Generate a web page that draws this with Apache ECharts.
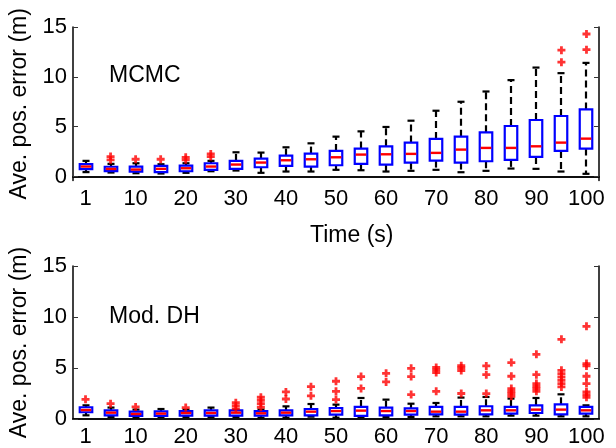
<!DOCTYPE html>
<html>
<head>
<meta charset="utf-8">
<script src="https://cdn.jsdelivr.net/npm/echarts@6/dist/echarts.min.js"></script>
<style>html,body{margin:0;padding:0;background:#fff}#c{width:616px;height:448px}</style>
</head>
<body>
<div id="c"></div>
<script>
// Time categories (s)
const categories = ['1','5','10','15','20','25','30','35','40','45','50','55','60','65','70','75','80','85','90','95','100'];
const yTicks = [0, 5, 10, 15];

// MCMC panel: whisker low, Q1, median, Q3, whisker high, outliers
const mcmcLow  = [0.44,0.40,0.33,0.30,0.37,0.53,0.60,0.37,0.50,0.50,0.67,0.63,0.50,0.57,0.67,0.43,0.57,0.80,0.77,0.50,0.27];
const mcmcQ1   = [0.74,0.54,0.50,0.45,0.53,0.67,0.77,0.93,1.07,1.00,1.13,1.27,1.20,1.40,1.60,1.40,1.53,1.67,1.97,2.57,2.80];
const mcmcMed  = [1.00,0.76,0.70,0.77,0.83,1.00,1.20,1.40,1.63,1.73,1.93,2.20,2.23,2.27,2.37,2.70,2.87,2.87,3.03,3.40,3.80];
const mcmcQ3   = [1.24,0.98,1.00,1.07,1.10,1.33,1.57,1.80,2.10,2.30,2.57,2.80,3.03,3.40,3.77,4.00,4.43,5.07,5.67,6.07,6.73];
const mcmcHigh = [1.57,1.27,1.33,1.23,1.33,1.57,2.43,2.40,2.93,3.33,4.00,4.53,4.97,5.60,6.60,7.50,8.53,9.67,10.93,10.37,11.40];
const mcmcOut  = [[],[1.67,2.0],[1.73],[1.73],[1.67,1.93],[2.0,2.27],[],[],[],[],[],[],[],[],[],[],[],[],[],[11.47,12.67],[12.73,14.3]];

// Mod. DH panel
const dhLow  = [0.36,0.20,0.13,0.20,0.20,0.20,0.20,0.13,0.13,0.23,0.13,0.20,0.20,0.20,0.26,0.26,0.26,0.33,0.33,0.26,0.26];
const dhQ1   = [0.66,0.36,0.30,0.30,0.33,0.33,0.33,0.33,0.36,0.36,0.43,0.30,0.36,0.43,0.46,0.43,0.46,0.52,0.59,0.46,0.52];
const dhMed  = [0.88,0.62,0.49,0.53,0.59,0.59,0.62,0.56,0.62,0.72,0.78,0.82,0.78,0.78,0.72,0.72,0.85,0.85,0.92,0.92,0.85];
const dhQ3   = [1.15,0.85,0.72,0.75,0.78,0.85,0.85,0.78,0.85,0.98,1.08,1.18,1.12,1.05,1.18,1.18,1.25,1.18,1.34,1.44,1.18];
const dhHigh = [1.34,1.12,0.92,0.98,0.90,1.12,0.90,0.92,1.24,1.47,1.41,2.06,1.90,1.50,1.57,2.10,2.16,2.00,2.06,2.42,1.34];
const dhOut  = [[1.93],[1.5],[1.18],[],[1.12],[],[1.0,1.3,1.6],[1.15,1.5,1.83,2.13],[1.96,2.65],[2.27,3.17],[1.9,2.71,3.7],[3.0,4.16],[3.63,4.48],[2.39,4.16,4.97],[2.71,4.55,4.8,5.05],[2.5,4.75,5.0,5.22],[2.49,4.35,5.2],[2.22,2.49,2.71,2.98,4.19,5.53],[2.71,2.98,3.2,3.47,4.35,6.34],[3.14,3.47,3.79,4.12,4.45,4.77,7.81],[2.13,2.39,2.65,3.47,4.19,5.2,5.43,9.09]];

const FONT = 'Liberation Sans, Arial, Helvetica, sans-serif';
const plus = 'path://M2.6,0H5.4V2.6H8V5.4H5.4V8H2.6V5.4H0V2.6H2.6Z';

function boxData(lo, q1, med, q3, hi) {
  return categories.map((c, i) => [i, lo[i], q1[i], med[i], q3[i], hi[i]]);
}
function outData(out) {
  const r = [];
  out.forEach((arr, i) => arr.forEach(v => r.push([i, v])));
  return r;
}

function renderBox(params, api) {
  const i = api.value(0);
  const lo = api.coord([i, api.value(1)]);
  const q1 = api.coord([i, api.value(2)]);
  const md = api.coord([i, api.value(3)]);
  const q3 = api.coord([i, api.value(4)]);
  const hi = api.coord([i, api.value(5)]);
  const band = api.size([1, 0])[0];
  const half = band * 0.25;
  const cap = band * 0.14;
  const x = Math.round(lo[0]);
  const wStyle = {stroke: '#000', lineWidth: 2.2, lineDash: [7, 4]};
  const cStyle = {stroke: '#000', lineWidth: 2.2};
  return {
    type: 'group',
    children: [
      {type: 'line', shape: {x1: x, y1: q3[1], x2: x, y2: hi[1]}, style: wStyle},
      {type: 'line', shape: {x1: x, y1: q1[1], x2: x, y2: lo[1]}, style: wStyle},
      {type: 'line', shape: {x1: x - cap, y1: hi[1], x2: x + cap, y2: hi[1]}, style: cStyle},
      {type: 'line', shape: {x1: x - cap, y1: lo[1], x2: x + cap, y2: lo[1]}, style: cStyle},
      {type: 'rect', shape: {x: x - half, y: q3[1], width: half * 2, height: q1[1] - q3[1]},
        style: {fill: '#fff', stroke: '#0000ff', lineWidth: 2.2}},
      {type: 'line', shape: {x1: x - half + 1, y1: md[1], x2: x + half - 1, y2: md[1]},
        style: {stroke: '#ff0000', lineWidth: 2.4}}
    ]
  };
}

const chart = echarts.init(document.getElementById('c'), null, {renderer: 'canvas'});

function xAxes(gi) {
  return [
    {type: 'category', gridIndex: gi, data: categories, position: 'bottom',
      axisLine: {lineStyle: {color: '#000', width: 1.5}},
      axisTick: {inside: true, alignWithLabel: true, interval: 1, length: 5, lineStyle: {color: '#333'}},
      axisLabel: {interval: 1, color: '#000', fontFamily: FONT, fontSize: 22, margin: 7},
      splitLine: {show: false}},
    {type: 'category', gridIndex: gi, data: categories, position: 'top',
      axisLine: {lineStyle: {color: '#000', width: 1.5}},
      axisTick: {inside: true, alignWithLabel: true, interval: 1, length: 5, lineStyle: {color: '#333'}},
      axisLabel: {show: false}, splitLine: {show: false}}
  ];
}
function yAxes(gi, min) {
  return [
    {type: 'value', gridIndex: gi, min: min, max: 15, position: 'left',
      name: 'Ave. pos. error (m)', nameLocation: 'middle', nameGap: 37,
      nameTextStyle: {color: '#000', fontFamily: FONT, fontSize: 23},
      axisLine: {show: true, lineStyle: {color: '#000', width: 1.5}},
      axisTick: {show: true, inside: true, length: 5, customValues: yTicks, lineStyle: {color: '#333'}},
      axisLabel: {color: '#000', fontFamily: FONT, fontSize: 22, margin: 6, customValues: yTicks},
      splitLine: {show: false}},
    {type: 'value', gridIndex: gi, min: min, max: 15, position: 'right',
      axisLine: {show: true, lineStyle: {color: '#000', width: 1.5}},
      axisTick: {show: true, inside: true, length: 5, customValues: yTicks, lineStyle: {color: '#333'}},
      axisLabel: {show: false, customValues: yTicks}, splitLine: {show: false}}
  ];
}

chart.setOption({
  animation: false,
  backgroundColor: '#fff',
  grid: [
    {left: 73, right: 17, top: 27, height: 153.5},
    {left: 73, right: 17, top: 266, height: 153}
  ],
  xAxis: xAxes(0).concat(xAxes(1)),
  yAxis: yAxes(0, -0.4).concat(yAxes(1, 0)),
  graphic: [
    {type: 'text', left: 109, top: 64, style: {text: 'MCMC', fontFamily: FONT, fontSize: 23, fill: '#000'}},
    {type: 'text', left: 109, top: 305, style: {text: 'Mod. DH', fontFamily: FONT, fontSize: 23, fill: '#000'}},
    {type: 'text', left: 310, top: 224, style: {text: 'Time (s)', fontFamily: FONT, fontSize: 23, fill: '#000'}}
  ],
  series: [
    {type: 'custom', xAxisIndex: 0, yAxisIndex: 0, renderItem: renderBox,
      encode: {x: 0, y: [1, 2, 3, 4, 5]}, data: boxData(mcmcLow, mcmcQ1, mcmcMed, mcmcQ3, mcmcHigh)},
    {type: 'scatter', xAxisIndex: 0, yAxisIndex: 0, symbol: plus, symbolSize: 8,
      itemStyle: {color: '#ff0000'}, data: outData(mcmcOut)},
    {type: 'custom', xAxisIndex: 2, yAxisIndex: 2, renderItem: renderBox,
      encode: {x: 0, y: [1, 2, 3, 4, 5]}, data: boxData(dhLow, dhQ1, dhMed, dhQ3, dhHigh)},
    {type: 'scatter', xAxisIndex: 2, yAxisIndex: 2, symbol: plus, symbolSize: 8,
      itemStyle: {color: '#ff0000'}, data: outData(dhOut)}
  ]
});
</script>
</body>
</html>
